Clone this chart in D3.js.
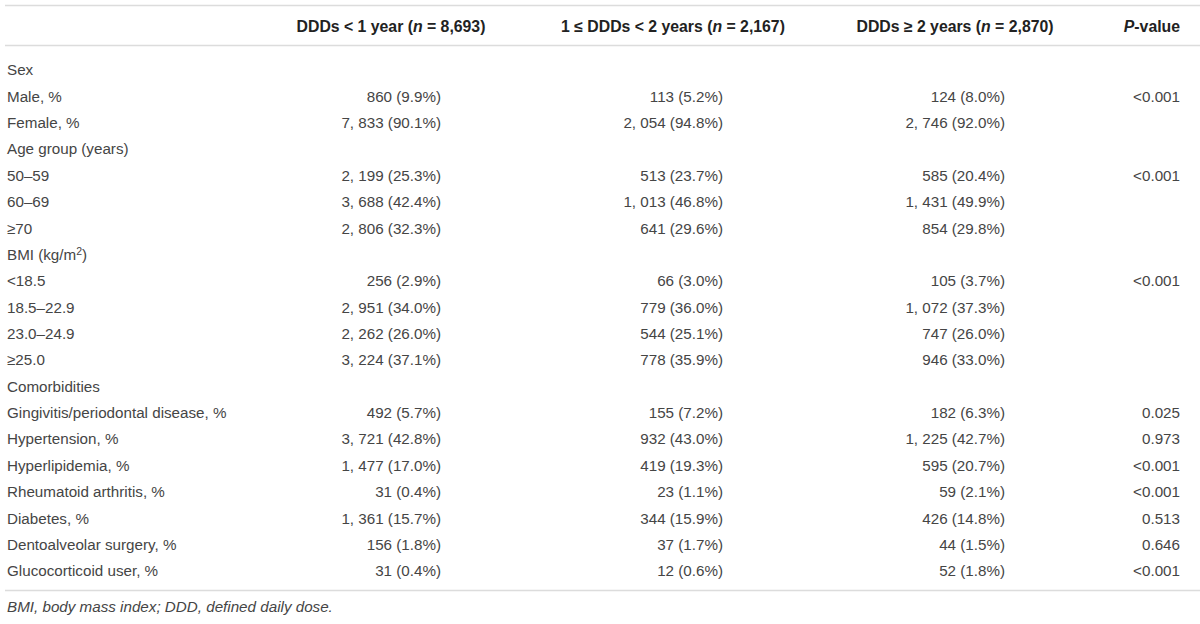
<!DOCTYPE html>
<html>
<head>
<meta charset="utf-8">
<script src="https://cdn.jsdelivr.net/npm/d3@7"></script>
<style>
  body { margin: 0; background: #fff; }
  svg { display: block; font-family: "Liberation Sans", Arial, sans-serif; }
  .cell { fill: #454545; font-size: 15.2px; }
  .head { fill: #222; font-size: 15.8px; font-weight: bold; }
  .note { fill: #454545; font-size: 15.2px; font-style: italic; }
  .rule { stroke: #dcdcdc; stroke-width: 1.6; }
</style>
</head>
<body>
<svg id="table" width="1200" height="624"></svg>
<script>
// row labels, top to bottom (empty values mark group header rows)
const labels = ["Sex", "Male, %", "Female, %", "Age group (years)", "50–59", "60–69", "≥70",
  "BMI (kg/m2)", "<18.5", "18.5–22.9", "23.0–24.9", "≥25.0", "Comorbidities",
  "Gingivitis/periodontal disease, %", "Hypertension, %", "Hyperlipidemia, %",
  "Rheumatoid arthritis, %", "Diabetes, %", "Dentoalveolar surgery, %", "Glucocorticoid user, %"];

const lessThan1 = ["", "860 (9.9%)", "7, 833 (90.1%)", "", "2, 199 (25.3%)", "3, 688 (42.4%)", "2, 806 (32.3%)",
  "", "256 (2.9%)", "2, 951 (34.0%)", "2, 262 (26.0%)", "3, 224 (37.1%)", "",
  "492 (5.7%)", "3, 721 (42.8%)", "1, 477 (17.0%)", "31 (0.4%)", "1, 361 (15.7%)", "156 (1.8%)", "31 (0.4%)"];

const oneToTwo = ["", "113 (5.2%)", "2, 054 (94.8%)", "", "513 (23.7%)", "1, 013 (46.8%)", "641 (29.6%)",
  "", "66 (3.0%)", "779 (36.0%)", "544 (25.1%)", "778 (35.9%)", "",
  "155 (7.2%)", "932 (43.0%)", "419 (19.3%)", "23 (1.1%)", "344 (15.9%)", "37 (1.7%)", "12 (0.6%)"];

const twoPlus = ["", "124 (8.0%)", "2, 746 (92.0%)", "", "585 (20.4%)", "1, 431 (49.9%)", "854 (29.8%)",
  "", "105 (3.7%)", "1, 072 (37.3%)", "747 (26.0%)", "946 (33.0%)", "",
  "182 (6.3%)", "1, 225 (42.7%)", "595 (20.7%)", "59 (2.1%)", "426 (14.8%)", "44 (1.5%)", "52 (1.8%)"];

const pValues = ["", "<0.001", "", "", "<0.001", "", "", "", "<0.001", "", "", "", "",
  "0.025", "0.973", "<0.001", "<0.001", "0.513", "0.646", "<0.001"];

// header pieces: [text, style]  ("i" italic)
const headers = [
  [["DDDs < 1 year (", ""], ["n", "i"], [" = 8,693)", ""]],
  [["1 ≤ DDDs < 2 years (", ""], ["n", "i"], [" = 2,167)", ""]],
  [["DDDs ≥ 2 years (", ""], ["n", "i"], [" = 2,870)", ""]],
  [["P", "i"], ["-value", ""]]
];

const footnote = "BMI, body mass index; DDD, defined daily dose.";

const svg = d3.select("#table");
const width = 1200;

const colCenters = [391, 673, 955];
const valueOffset = 50;   // numbers sit right-aligned a bit past the header centre
const pRight = 1180;
const labelX = 7;

const y = d3.scalePoint()
  .domain(d3.range(labels.length))
  .range([70, 571]);

// rules
const rules = [5.5, 45.5, 590.5];
svg.selectAll("line.rule")
  .data(rules)
  .enter().append("line")
  .attr("class", "rule")
  .attr("x1", 5).attr("x2", width)
  .attr("y1", d => d).attr("y2", d => d);

// header row
const headG = svg.append("g");
headers.forEach((parts, i) => {
  const t = headG.append("text")
    .attr("class", "head")
    .attr("y", 26)
    .attr("dy", "0.35em");
  if (i < 3) {
    t.attr("x", colCenters[i]).attr("text-anchor", "middle");
  } else {
    t.attr("x", pRight).attr("text-anchor", "end");
  }
  parts.forEach(p => {
    t.append("tspan")
      .attr("font-style", p[1] == "i" ? "italic" : null)
      .text(p[0]);
  });
});

// label column
const labelText = svg.selectAll("text.lab")
  .data(labels)
  .enter().append("text")
  .attr("class", "cell lab")
  .attr("x", labelX)
  .attr("y", (d, i) => y(i))
  .attr("dy", "0.35em");

labelText.each(function(d) {
  const el = d3.select(this);
  if (d == "BMI (kg/m2)") {
    el.append("tspan").text("BMI (kg/m");
    el.append("tspan").attr("font-size", "10.5px").attr("dy", "-0.5em").text("2");
    el.append("tspan").attr("dy", "0.33em").text(")");
  } else {
    el.text(d);
  }
});

// value columns
[lessThan1, oneToTwo, twoPlus].forEach((col, c) => {
  svg.append("g").selectAll("text")
    .data(col)
    .enter().append("text")
    .attr("class", "cell")
    .attr("x", colCenters[c] + valueOffset)
    .attr("y", (d, i) => y(i))
    .attr("dy", "0.35em")
    .attr("text-anchor", "end")
    .text(d => d);
});

svg.append("g").selectAll("text")
  .data(pValues)
  .enter().append("text")
  .attr("class", "cell")
  .attr("x", pRight)
  .attr("y", (d, i) => y(i))
  .attr("dy", "0.35em")
  .attr("text-anchor", "end")
  .text(d => d);

// footnote
svg.append("text")
  .attr("class", "note")
  .attr("x", labelX)
  .attr("y", 607)
  .attr("dy", "0.35em")
  .text(footnote);
</script>
</body>
</html>
